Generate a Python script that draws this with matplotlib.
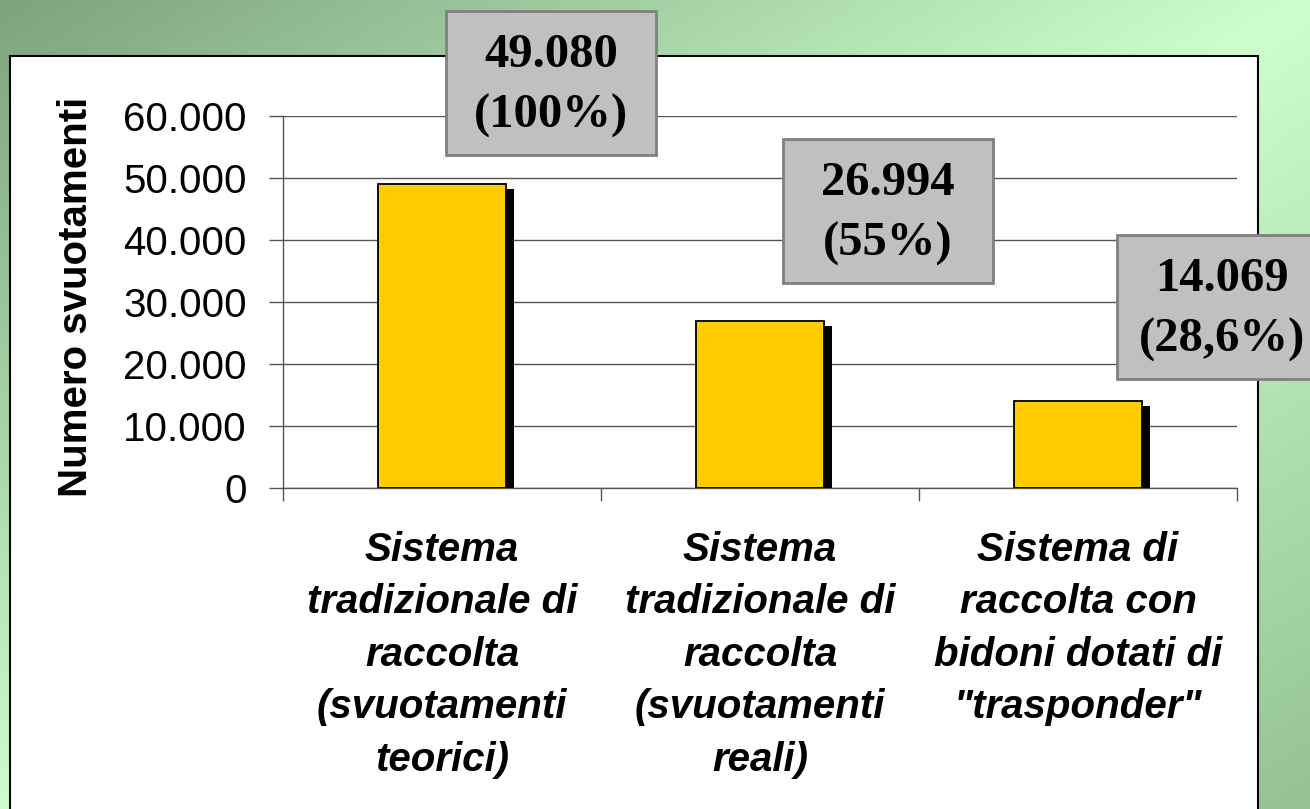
import numpy as np
import matplotlib
matplotlib.use("Agg")
import matplotlib.pyplot as plt
import matplotlib.patheffects as pe
from matplotlib.patches import Rectangle
from matplotlib.transforms import IdentityTransform
from matplotlib.ticker import FuncFormatter

# data
categories = ["Sistema\ntradizionale di\nraccolta\n(svuotamenti\nteorici)",
              "Sistema\ntradizionale di\nraccolta\n(svuotamenti\nreali)",
              "Sistema di\nraccolta con\nbidoni dotati di\n\"trasponder\""]
values = [49080, 26994, 14069]
box_labels = ["49.080\n(100%)", "26.994\n(55%)", "14.069\n(28,6%)"]
yticks = [0, 10000, 20000, 30000, 40000, 50000, 60000]
ylabel = "Numero svuotamenti"

# layout (pixels, relative to bar top)
box_offsets = [(4, 29), (23, 38), (39, 22)]
box_w, box_h = 210, 144

W, H, DPI = 1310, 809, 100
fig = plt.figure(figsize=(W / DPI, H / DPI), dpi=DPI)

# background gradient
bg = fig.add_axes([0, 0, 1, 1], zorder=-10)
bg.set_axis_off()
gx, gy = np.meshgrid(np.linspace(0, 1, 300), np.linspace(0, 1, 200))
t = (gx + gy) / 2.0
dark_tl = np.array([0.49, 0.64, 0.49])
dark_br = np.array([0.58, 0.76, 0.58])
light = np.array([0.80, 1.00, 0.80])
w = np.abs(2 * t - 1)[..., None]
dark = np.where((t < 0.5)[..., None], dark_tl, dark_br)
img = light * (1 - w) + dark * w
bg.imshow(img, extent=[0, 1, 0, 1], aspect="auto", origin="upper")
bg.set_xlim(0, 1)
bg.set_ylim(0, 1)
bg.add_patch(Rectangle((10 / W, -0.05), 1248 / W, (H - 56) / H + 0.05,
                       facecolor="white", edgecolor="black", lw=1.5))

# main axes
ax = fig.add_axes([283 / W, (H - 488) / H, 954 / W, 372 / H])
ax.set_facecolor("none")
x = np.arange(len(values)) + 0.5
bars = ax.bar(x, values, width=0.4, color="#FFCC00", edgecolor="black",
              linewidth=1.3, zorder=3)
for b in bars:
    b.set_path_effects([pe.SimplePatchShadow(offset=(5.8, -3.6),
                                             shadow_rgbFace="black", alpha=1),
                        pe.Normal()])

ax.set_xlim(0, 3)
ax.set_ylim(0, 60000)
ax.set_yticks(yticks)
ax.yaxis.set_major_formatter(FuncFormatter(lambda v, p: f"{int(v):,}".replace(",", ".")))
ax.grid(axis="y", color="#555555", lw=1.0, zorder=0)
ax.set_axisbelow(True)
for s in ["top", "right"]:
    ax.spines[s].set_visible(False)
for s in ["left", "bottom"]:
    ax.spines[s].set_color("#555555")
    ax.spines[s].set_linewidth(1.0)

ax.set_xticks([0, 1, 2, 3])
ax.set_xticklabels([])
ax.tick_params(axis="x", which="major", direction="out", length=9,
               color="#555555", width=1.0)
ax.set_xticks(x, minor=True)
ax.set_xticklabels(categories, minor=True, fontsize=29, fontweight="bold",
                   fontstyle="italic", family="Liberation Sans", linespacing=1.48)
ax.tick_params(axis="x", which="minor", length=0, pad=31)
ax.tick_params(axis="y", direction="out", length=10, color="#555555",
               width=1.0, pad=16, labelsize=29)
for lbl in ax.get_yticklabels():
    lbl.set_family("Liberation Sans")

fig.text(76 / W, (H - 297) / H, ylabel, rotation=90, ha="center", va="center",
         fontsize=29, fontweight="bold", family="Liberation Sans")

# value boxes
fig.canvas.draw()
for xi, v, lab, (dx, dy) in zip(x, values, box_labels, box_offsets):
    px, py = ax.transData.transform((xi, v))
    x0, y0 = px + dx, py + dy
    fig.patches.append(Rectangle((x0, y0), box_w, box_h, transform=IdentityTransform(),
                                 facecolor="#C0C0C0", edgecolor="#808080",
                                 lw=2, zorder=5, figure=fig))
    fig.text((x0 + box_w / 2) / W, (y0 + box_h / 2 - 3) / H, lab, ha="center",
             va="center", fontsize=35, fontweight="bold", family="Liberation Serif",
             linespacing=1.5, zorder=6)

fig.savefig("out.png", dpi=DPI)
